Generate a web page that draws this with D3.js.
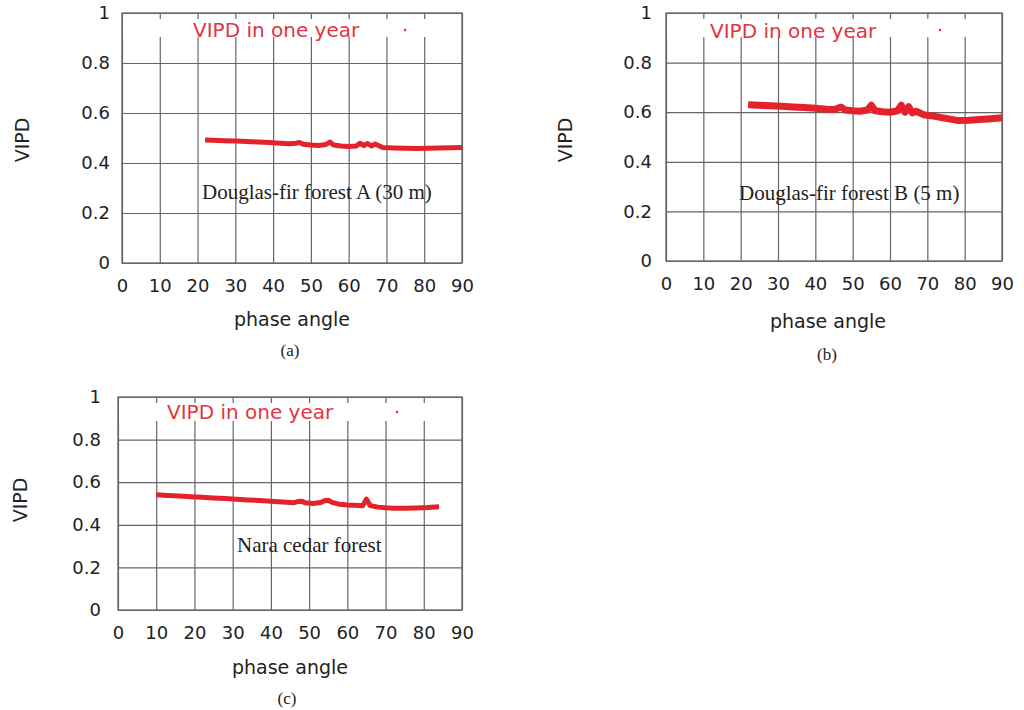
<!DOCTYPE html>
<html>
<head>
<meta charset="utf-8">
<script src="https://cdn.jsdelivr.net/npm/d3@7/dist/d3.min.js"></script>
<style>
  body { margin: 0; background: #fff; }
  svg { display: block; }
  .tick text { font-family: "DejaVu Sans", sans-serif; font-size: 18px; fill: #222; }
  .grid line { stroke: #666; stroke-width: 1.2; }
  .grid path { display: none; }
</style>
</head>
<body>
<svg id="chart" width="1024" height="710"></svg>
<script>
// phase angle (deg) vs VIPD, one series per stand
var anglesA = [22,24,27,30,33,36,39,42,44,46,47,48,50,52,54,55,56,58,60,62,63,64,65,66,67,69,72,75,78,81,84,87,90]
var vipdA   = [.492,.491,.489,.488,.486,.484,.482,.479,.477,.479,.482,.475,.472,.470,.474,.484,.472,.468,.466,.468,.479,.470,.478,.468,.476,.462,.460,.459,.458,.459,.460,.461,.462]

var anglesB = [22,25,28,31,34,37,40,43,45,46,47,48,50,52,54,55,56,58,60,62,63,64,65,66,67,69,72,75,78,81,84,87,90]
var vipdB   = [.630,.628,.626,.624,.621,.619,.616,.612,.611,.616,.620,.609,.606,.604,.609,.628,.606,.602,.600,.606,.628,.600,.622,.597,.604,.590,.583,.575,.567,.568,.571,.574,.578]

var anglesC = [10,13,16,19,22,25,28,31,34,37,40,43,46,47,48,49,51,53,54,55,56,58,60,62,64,65,66,68,70,72,75,78,81,84]
var vipdC   = [.541,.538,.535,.532,.529,.526,.523,.520,.517,.514,.511,.507,.504,.509,.511,.503,.500,.505,.513,.515,.505,.496,.493,.492,.490,.520,.490,.483,.480,.478,.478,.479,.481,.485]

var xTicks = [0,10,20,30,40,50,60,70,80,90]
var yTicks = [0,0.2,0.4,0.6,0.8,1]
var legendLabel = 'VIPD in one year'
var standNames = ['Douglas-fir forest A (30 m)', 'Douglas-fir forest B (5 m)', 'Nara cedar forest']
var captions = ['(a)', '(b)', '(c)']

var red = '#e3222c'

// panel placement on the page
var panels = [
  { angles: anglesA, vipd: vipdA, left: 122, right: 462, top: 13, bottom: 263, lw: 5,
    ylab: [22, 140], xlab: [292, 326], cap: [290, 356], leg: [193, 37], dot: [405, 30], note: [202, 199], yPad: 12 },
  { angles: anglesB, vipd: vipdB, left: 666, right: 1002, top: 13, bottom: 261, lw: 7,
    ylab: [565, 140], xlab: [828, 328], cap: [827, 360], leg: [710, 38], dot: [940, 30], note: [739, 200], yPad: 14 },
  { angles: anglesC, vipd: vipdC, left: 118, right: 462, top: 397, bottom: 610, lw: 5,
    ylab: [20, 500], xlab: [290, 674], cap: [287, 704], leg: [167, 419], dot: [397, 412], note: [237, 552], yPad: 17 }
]

var svg = d3.select('#chart')

panels.forEach((p, i) => {
  var w = p.right - p.left
  var h = p.bottom - p.top
  var x = d3.scaleLinear().domain([0, 90]).range([0, w])
  var y = d3.scaleLinear().domain([0, 1]).range([h, 0])

  var g = svg.append('g').attr('transform', 'translate(' + p.left + ',' + p.top + ')')

  // grid + tick labels
  g.append('g')
    .attr('class', 'grid')
    .attr('transform', 'translate(0,' + h + ')')
    .call(d3.axisBottom(x).tickValues(xTicks).tickSize(-h).tickPadding(16))

  g.append('g')
    .attr('class', 'grid')
    .call(d3.axisLeft(y).tickValues(yTicks).tickFormat(d3.format('~g')).tickSize(-w).tickPadding(p.yPad))

  // key area hides the grid under it, leaving short ticks at the top
  g.append('rect')
    .attr('x', 1).attr('y', 6)
    .attr('width', w - 2).attr('height', 18)
    .attr('fill', '#fff')

  g.append('rect')
    .attr('width', w).attr('height', h)
    .attr('fill', 'none')
    .attr('stroke', '#666')
    .attr('stroke-width', 1.3)

  var line = d3.line()
    .x(d => x(d[0]))
    .y(d => y(d[1]))

  g.append('path')
    .datum(p.angles.map((a, k) => [a, p.vipd[k]]))
    .attr('d', line)
    .attr('fill', 'none')
    .attr('stroke', red)
    .attr('stroke-width', p.lw)
    .attr('stroke-linejoin', 'round')

  // key
  svg.append('text')
    .attr('x', p.leg[0]).attr('y', p.leg[1])
    .attr('fill', '#e3343f')
    .style('font-family', '"DejaVu Sans", sans-serif')
    .style('font-size', '20px')
    .text(legendLabel)

  svg.append('circle')
    .attr('cx', p.dot[0]).attr('cy', p.dot[1])
    .attr('r', 1.2)
    .attr('fill', red)

  // stand name
  svg.append('text')
    .attr('x', p.note[0]).attr('y', p.note[1])
    .attr('fill', '#222')
    .style('font-family', '"Liberation Serif", serif')
    .style('font-size', '21px')
    .text(standNames[i])

  // axis titles
  svg.append('text')
    .attr('transform', 'translate(' + p.ylab[0] + ',' + p.ylab[1] + ') rotate(-90)')
    .attr('text-anchor', 'middle')
    .attr('dy', '0.35em')
    .attr('fill', '#222')
    .style('font-family', '"DejaVu Sans", sans-serif')
    .style('font-size', '19px')
    .text('VIPD')

  svg.append('text')
    .attr('x', p.xlab[0]).attr('y', p.xlab[1])
    .attr('text-anchor', 'middle')
    .attr('fill', '#222')
    .style('font-family', '"DejaVu Sans", sans-serif')
    .style('font-size', '19px')
    .text('phase angle')

  svg.append('text')
    .attr('x', p.cap[0]).attr('y', p.cap[1])
    .attr('text-anchor', 'middle')
    .attr('fill', '#222')
    .style('font-family', '"Liberation Serif", serif')
    .style('font-size', '17px')
    .text(captions[i])
})
</script>
</body>
</html>
